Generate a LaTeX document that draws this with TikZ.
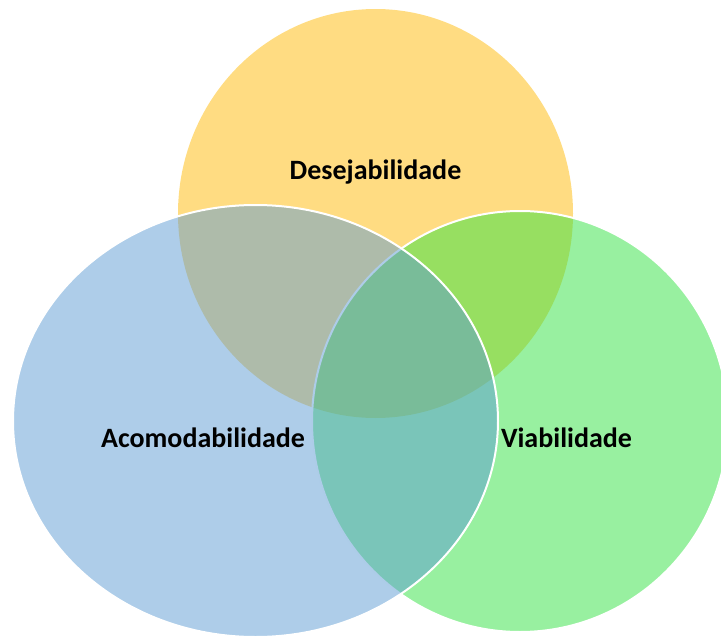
\documentclass[tikz,border=0pt]{standalone}
\usepackage{fontspec}
\setmainfont{Carlito}
\definecolor{cyel}{RGB}{255,186,6}
\definecolor{cblu}{RGB}{93,155,211}
\definecolor{cgrn}{RGB}{49,225,65}
\begin{document}
\begin{tikzpicture}[x=1pt,y=-1pt,
  venntext/.style={font=\bfseries\fontsize{28}{34}\selectfont, text=black, inner sep=0pt},
  vennfill/.style={fill=#1, fill opacity=0.5},
  vennline/.style={draw=white, line width=2pt}]
\useasboundingbox (0,0) rectangle (721,637);
\clip (0,0) rectangle (721,637);
% yellow (drawn first, no outline)
\fill[vennfill=cyel] (375.5,213.5) ellipse [x radius=197.5, y radius=204.5];
% green
\fill[vennfill=cgrn] (520,421.5) ellipse [x radius=208, y radius=210.5];
\draw[vennline] (520,421.5) ellipse [x radius=208, y radius=210.5];
% blue
\fill[vennfill=cblu] (255.5,421) ellipse [x radius=242.5, y radius=216];
\draw[vennline] (255.5,421) ellipse [x radius=242.5, y radius=216];
% labels
\node[venntext] (des) at (375.5,172) {Desejabilidade};
\node[venntext] (aco) at (203,438) {Acomodabilidade};
\node[venntext] (via) at (566.5,438) {Viabilidade};
\end{tikzpicture}
\end{document}
